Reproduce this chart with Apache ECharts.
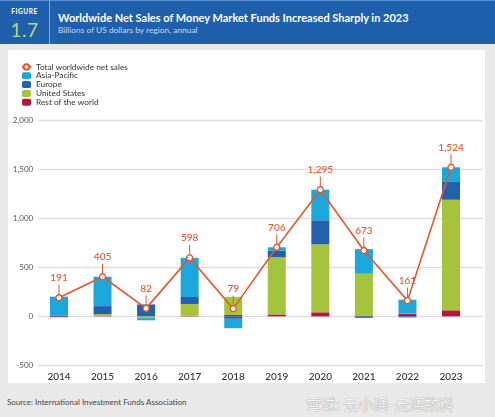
<!DOCTYPE html>
<html>
<head>
<meta charset="utf-8">
<script src="https://cdn.jsdelivr.net/npm/echarts@6/dist/echarts.min.js"></script>
<style>
  html, body { margin: 0; padding: 0; }
  body { width: 495px; height: 417px; background: #e9e9ea; position: relative; overflow: hidden; font-family: Lato, "Open Sans", sans-serif; }
  #header { position: absolute; left: 0; top: 0; width: 495px; height: 44px; background: #1f60ad; border-top: 1px solid #5a8fd0; box-sizing: border-box; }
  #divider { position: absolute; left: 49px; top: 0; width: 1px; height: 44px; background: #7fa7da; }
  #fig { position: absolute; left: 0; top: 8px; width: 49px; text-align: center; color: #ffffff; font-size: 6.5px; font-weight: bold; letter-spacing: 0.6px; }
  #num { position: absolute; left: 0; top: 18px; width: 49px; text-align: center; color: #b9d873; font-size: 19px; letter-spacing: 0.5px; }
  #title { position: absolute; left: 58px; top: 11px; color: #ffffff; font-size: 11px; font-weight: bold; white-space: nowrap; }
  #subtitle { position: absolute; left: 58px; top: 25px; color: #c9dbf2; font-size: 8.4px; white-space: nowrap; }
  #panel { position: absolute; left: 8px; top: 50px; width: 477px; height: 333px; background: #ffffff; }
  #chart { position: absolute; left: 8px; top: 50px; width: 477px; height: 333px; }
  #source { position: absolute; left: 7px; top: 397px; color: #444; font-size: 8px; white-space: nowrap; }
  #wm { position: absolute; left: 306px; top: 393px; color: #f5f5f5; font-size: 15px; font-family: "Noto Sans CJK SC", sans-serif; white-space: nowrap; text-shadow: 0 0 1px #9a9a9a, 0 0 1px #9a9a9a; }
</style>
</head>
<body>
<div id="header"></div>
<div id="divider"></div>
<div id="fig">FIGURE</div>
<div id="num">1.7</div>
<div id="title">Worldwide Net Sales of Money Market Funds Increased Sharply in 2023</div>
<div id="subtitle">Billions of US dollars by region, annual</div>
<div id="panel"></div>
<div id="chart"></div>
<div id="source">Source: International Investment Funds Association</div>
<div id="wm">雪球: 云小通-云通数科</div>
<script>
var years = ['2014','2015','2016','2017','2018','2019','2020','2021','2022','2023'];
var totalSales   = [191, 405, 82, 598, 79, 706, 1295, 673, 161, 1524];
var asiaPacific  = [196, 300, -22, 400, -96, 35, 313, 252, 140, 150];
var europe       = [5, 82, 120, 72, -25, 68, 245, -15, -10, 182];
var unitedStates = [-2, 20, -18, 120, 185, 583, 696, 428, 3, 1130];
var restOfWorld  = [-8, 3, 2, 6, 15, 20, 41, 8, 28, 62];
var yTicks = [-500, 0, 500, 1000, 1500, 2000];

var C_AP = '#1aa7dc', C_EU = '#2461ad', C_US = '#a5c43b', C_RW = '#b5173e', C_LINE = '#e4572e';

var chart = echarts.init(document.getElementById('chart'));
var gTop = 70.7, gBottom = 17.7;
var yMin = yTicks[0], yMax = yTicks[yTicks.length - 1];
function fmt(v) { return v.toLocaleString('en-US'); }

function barSeries(name, data, color) {
  return { name: name, type: 'bar', stack: 'all', data: data, barWidth: 18,
    xAxisIndex: 0, yAxisIndex: 0, itemStyle: { color: color }, z: 3 };
}

chart.setOption({
  animation: false,
  textStyle: { fontFamily: 'Lato, "Open Sans", sans-serif' },
  grid: [
    { left: 29.2, right: 12.2, top: gTop, bottom: gBottom },
    { left: 30, right: 2, top: gTop, bottom: gBottom }
  ],
  legend: {
    orient: 'vertical', left: 8, top: 8, padding: 5, itemWidth: 9, itemHeight: 7, itemGap: 0.8,
    textStyle: { fontSize: 8.3, color: '#333', lineHeight: 8 },
    data: ['Total worldwide net sales', 'Asia-Pacific', 'Europe', 'United States', 'Rest of the world']
  },
  xAxis: [
    { type: 'category', data: years, gridIndex: 0,
      axisLine: { show: false }, axisTick: { show: false },
      axisLabel: { color: '#333', fontSize: 10, margin: 6, fontWeight: 500 } },
    { type: 'category', data: years, gridIndex: 1, show: false }
  ],
  yAxis: [
    { type: 'value', gridIndex: 0, min: yMin, max: yMax, interval: 500,
      axisLine: { show: false }, axisTick: { show: false }, splitLine: { show: false },
      axisLabel: { color: '#555', fontSize: 8, margin: 4, formatter: function (v) { return fmt(v); } } },
    { type: 'value', gridIndex: 1, min: yMin, max: yMax, interval: 500,
      axisLine: { show: false }, axisTick: { show: false }, axisLabel: { show: false },
      splitLine: { show: true, lineStyle: { color: '#dedede', width: 1.3 } } }
  ],
  series: [
    barSeries('Rest of the world', restOfWorld, C_RW),
    barSeries('United States', unitedStates, C_US),
    barSeries('Europe', europe, C_EU),
    barSeries('Asia-Pacific', asiaPacific, C_AP),
    { name: 'leaders', type: 'custom', xAxisIndex: 0, yAxisIndex: 0, z: 4, silent: true,
      data: totalSales.map(function (v, i) { return [i, v]; }),
      renderItem: function (params, api) {
        var p = api.coord([api.value(0), api.value(1)]);
        return { type: 'line', shape: { x1: p[0], y1: p[1] - 3, x2: p[0], y2: p[1] - 13 },
          style: { stroke: C_LINE, lineWidth: 1 } };
      }
    },
    { name: 'Total worldwide net sales', type: 'line', data: totalSales, xAxisIndex: 0, yAxisIndex: 0,
      z: 5, symbol: 'circle', symbolSize: 6,
      lineStyle: { color: C_LINE, width: 1.6 },
      itemStyle: { color: '#ffffff', borderColor: C_LINE, borderWidth: 1.4 },
      label: { show: true, position: 'top', distance: 11, color: C_LINE, fontSize: 10, fontWeight: 500,
        formatter: function (p) { return fmt(p.value); } }
    }
  ]
});
</script>
</body>
</html>
